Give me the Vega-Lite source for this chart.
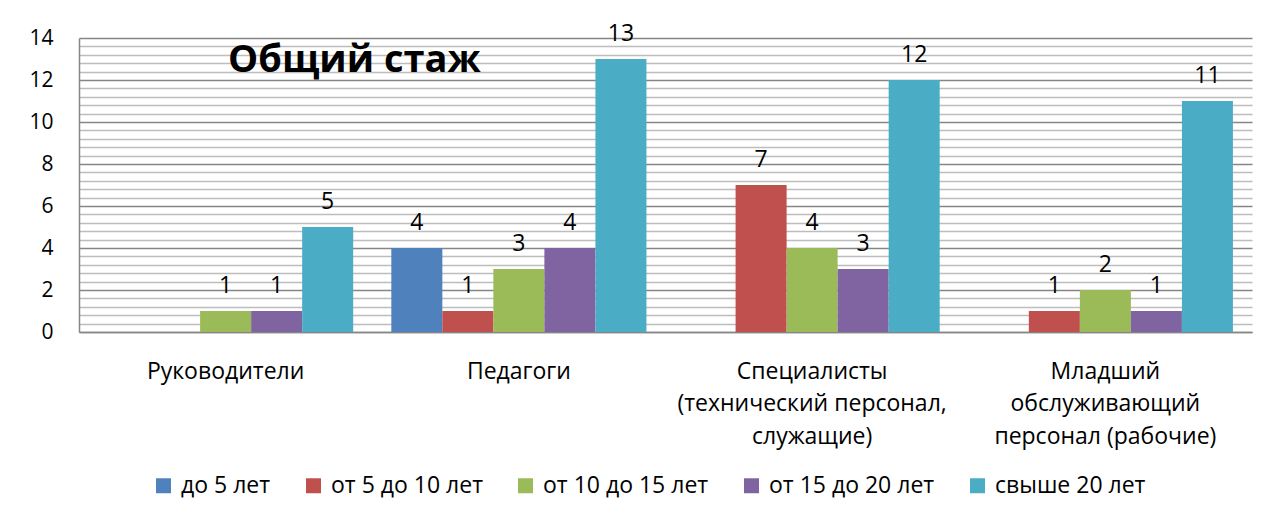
{
  "$schema": "https://vega.github.io/schema/vega-lite/v6.json",
  "width": 1173,
  "height": 294,
  "autosize": {"type": "none"},
  "padding": {"left": 79, "top": 38, "right": 20, "bottom": 187},
  "background": "white",
  "config": {
    "view": {"stroke": null},
    "font": "Open Sans"
  },
  "title": {
    "text": "Общий стаж",
    "anchor": "start",
    "frame": "group",
    "orient": "top",
    "fontSize": 38,
    "fontWeight": "bold",
    "font": "Open Sans",
    "color": "#000000",
    "baseline": "middle",
    "dx": 149,
    "dy": 76,
    "offset": 0
  },
  "data": {
    "values": [
      {"group": "Руководители", "cat": "от 10 до 15 лет", "value": 1},
      {"group": "Руководители", "cat": "от 15 до 20 лет", "value": 1},
      {"group": "Руководители", "cat": "свыше 20 лет", "value": 5},
      {"group": "Педагоги", "cat": "до 5 лет", "value": 4},
      {"group": "Педагоги", "cat": "от 5 до 10 лет", "value": 1},
      {"group": "Педагоги", "cat": "от 10 до 15 лет", "value": 3},
      {"group": "Педагоги", "cat": "от 15 до 20 лет", "value": 4},
      {"group": "Педагоги", "cat": "свыше 20 лет", "value": 13},
      {"group": "Специалисты|(технический персонал,|служащие)", "cat": "от 5 до 10 лет", "value": 7},
      {"group": "Специалисты|(технический персонал,|служащие)", "cat": "от 10 до 15 лет", "value": 4},
      {"group": "Специалисты|(технический персонал,|служащие)", "cat": "от 15 до 20 лет", "value": 3},
      {"group": "Специалисты|(технический персонал,|служащие)", "cat": "свыше 20 лет", "value": 12},
      {"group": "Младший|обслуживающий|персонал (рабочие)", "cat": "от 5 до 10 лет", "value": 1},
      {"group": "Младший|обслуживающий|персонал (рабочие)", "cat": "от 10 до 15 лет", "value": 2},
      {"group": "Младший|обслуживающий|персонал (рабочие)", "cat": "от 15 до 20 лет", "value": 1},
      {"group": "Младший|обслуживающий|персонал (рабочие)", "cat": "свыше 20 лет", "value": 11}
    ]
  },
  "encoding": {
    "x": {
      "field": "group",
      "type": "nominal",
      "sort": null,
      "scale": {"domain": ["Руководители", "Педагоги", "Специалисты|(технический персонал,|служащие)", "Младший|обслуживающий|персонал (рабочие)"], "paddingInner": 0.13, "paddingOuter": 0.065},
      "axis": {
        "title": null,
        "labelAngle": 0,
        "labelExpr": "split(datum.value, '|')",
        "labelFontSize": 23,
        "labelLineHeight": 32.5,
        "labelLimit": 0,
        "labelColor": "#000000",
        "labelPadding": 28,
        "labelBaseline": "top",
        "ticks": false,
        "domainColor": "#868686",
        "domainWidth": 1.5,
        "grid": false
      }
    },
    "xOffset": {
      "field": "cat",
      "type": "nominal",
      "scale": {"domain": ["до 5 лет", "от 5 до 10 лет", "от 10 до 15 лет", "от 15 до 20 лет", "свыше 20 лет"], "padding": 0}
    },
    "y": {
      "field": "value",
      "type": "quantitative",
      "scale": {"domain": [0, 14], "nice": false},
      "axis": {
        "title": null,
        "values": [0, 0.4, 0.8, 1.2, 1.6, 2, 2.4, 2.8, 3.2, 3.6, 4, 4.4, 4.8, 5.2, 5.6, 6, 6.4, 6.8, 7.2, 7.6, 8, 8.4, 8.8, 9.2, 9.6, 10, 10.4, 10.8, 11.2, 11.6, 12, 12.4, 12.8, 13.2, 13.6, 14],
        "labelExpr": "datum.value % 2 === 0 ? format(datum.value, 'd') : ''",
        "labelOverlap": false,
        "labelFontSize": 21,
        "labelColor": "#000000",
        "labelPadding": 26,
        "ticks": false,
        "domainColor": "#868686",
        "domainWidth": 1.5,
        "grid": true,
        "gridColor": {"condition": {"test": "datum.value % 2 === 0", "value": "#868686"}, "value": "#bdbdbd"},
        "gridWidth": 1.5
      }
    }
  },
  "layer": [
    {
      "mark": {"type": "bar"},
      "encoding": {
        "color": {
          "field": "cat",
          "type": "nominal",
          "scale": {
            "domain": ["до 5 лет", "от 5 до 10 лет", "от 10 до 15 лет", "от 15 до 20 лет", "свыше 20 лет"],
            "range": ["#4F81BD", "#C0504D", "#9BBB59", "#8064A2", "#4BACC6"]
          },
          "legend": {
            "title": null,
            "orient": "none",
            "direction": "horizontal",
            "legendX": 73,
            "legendY": 436,
            "symbolType": "square",
            "symbolSize": 225,
            "symbolStrokeWidth": 0,
            "labelFontSize": 23,
            "labelColor": "#000000",
            "labelOffset": 6,
            "labelLimit": 0,
            "columnPadding": 31
          }
        }
      }
    },
    {
      "mark": {"type": "text", "baseline": "alphabetic", "dy": -18, "fontSize": 23, "color": "#000000"},
      "encoding": {
        "text": {"field": "value", "type": "quantitative"}
      }
    }
  ]
}
